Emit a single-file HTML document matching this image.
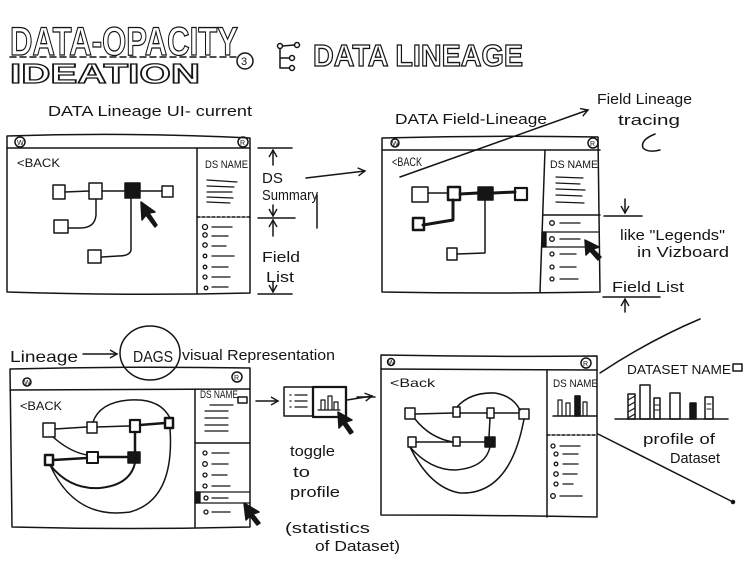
<!DOCTYPE html>
<html><head><meta charset="utf-8"><style>
html,body{margin:0;padding:0;background:#fff;}
svg{display:block;}
text{font-family:"Liberation Sans",sans-serif;fill:#151515;}
.o{fill:#fff;stroke:#151515;stroke-width:1.3;font-weight:bold;}
</style></head><body>
<svg width="751" height="576" viewBox="0 0 751 576" xmlns="http://www.w3.org/2000/svg">
<defs>
<marker id="ah" markerWidth="10" markerHeight="10" refX="8" refY="5" orient="auto" markerUnits="userSpaceOnUse"><path d="M1,1 L8,5 L1,9" fill="none" stroke="#151515" stroke-width="1.4"/></marker>
</defs>
<g fill="none" stroke="#151515" stroke-width="1.5" stroke-linecap="round" stroke-linejoin="round">

<!-- Title -->
<line x1="10" y1="57" x2="238" y2="57" stroke-dasharray="6,4"/>
<circle cx="245" cy="61" r="8"/>
<!-- tree icon -->
<circle cx="280" cy="46" r="2.5"/><circle cx="297" cy="45" r="2.5"/><circle cx="292" cy="58" r="2.5"/><circle cx="292" cy="68" r="2.5"/>
<path d="M282.5,46 L294.5,45 M280,48.5 L280,68 L289.5,68 M280,58 L289.5,58"/>

<!-- ===== Window 1 ===== -->
<path d="M7,136 Q130,132 250,138 L250,293 Q130,296 7,292 Z"/>
<line x1="7" y1="148" x2="250" y2="148"/>
<circle cx="20" cy="142" r="5"/><circle cx="243" cy="142" r="5"/>
<line x1="197" y1="148" x2="197" y2="293"/>
<line x1="197" y1="217" x2="250" y2="217" stroke-dasharray="3,2"/>
<path d="M207,180 L237,182 M207,186 L234,187 M207,192 L232,192 M207,197 L233,198 M207,202 L230,203" stroke-width="1.2"/>
<!-- field list -->
<g stroke-width="1.3">
<circle cx="205" cy="227" r="2.5"/><line x1="212" y1="227" x2="232" y2="227"/>
<circle cx="205" cy="235" r="2.2"/><line x1="212" y1="236" x2="228" y2="236"/>
<circle cx="205" cy="245" r="2.2"/><line x1="212" y1="246" x2="226" y2="246"/>
<circle cx="205" cy="256" r="1.8"/><line x1="212" y1="256" x2="234" y2="256"/>
<circle cx="205" cy="267" r="1.8"/><line x1="212" y1="267" x2="228" y2="267"/>
<circle cx="205" cy="277" r="2"/><line x1="212" y1="277" x2="230" y2="277"/>
<circle cx="206" cy="288" r="1.8"/><line x1="212" y1="287" x2="228" y2="287"/>
</g>
<!-- graph -->
<rect x="53" y="185" width="12" height="14"/>
<rect x="89" y="183" width="13" height="16"/>
<rect x="125" y="183" width="15" height="15" fill="#151515"/>
<rect x="162" y="186" width="11" height="11"/>
<path d="M65,192 L89,191 M102,191 L125,191 M140,191 L162,191"/>
<path d="M96,199 L96,215 Q95,228 80,228 L68,228"/>
<rect x="54" y="220" width="14" height="13"/>
<path d="M131,198 L131,250 Q130,256 118,256 L102,257"/>
<rect x="88" y="250" width="13" height="13"/>
<!-- cursor -->
<path d="M141,202 L142,220 L146,215 L155,227 L157,225 L149,213 L155,212 Z" fill="#151515"/>
<!-- annotations -->
<path d="M258,148 L292,148 M258,218 L295,218 M258,294 L292,294"/>
<line x1="273" y1="165" x2="273" y2="150" marker-end="url(#ah)"/>
<line x1="273" y1="205" x2="273" y2="216" marker-end="url(#ah)"/>
<line x1="273" y1="236" x2="273" y2="220" marker-end="url(#ah)"/>
<line x1="273" y1="282" x2="273" y2="292" marker-end="url(#ah)"/>
<line x1="317" y1="195" x2="317" y2="228"/>
<line x1="306" y1="178" x2="365" y2="171" marker-end="url(#ah)"/>

<!-- ===== Window 2 ===== -->
<path d="M382,138 Q490,135 598,137 L600,292 Q490,294 382,292 Z"/>
<line x1="382" y1="150" x2="600" y2="150"/>
<circle cx="395" cy="143" r="4"/><circle cx="593" cy="143" r="5"/>
<line x1="545" y1="150" x2="540" y2="292"/>
<line x1="543" y1="215" x2="600" y2="215"/>
<path d="M556,177 L583,178 M556,183 L580,184 M556,189 L585,190 M556,195 L582,196 M556,202 L584,203" stroke-width="1.2"/>
<g stroke-width="1.3">
<circle cx="552" cy="223" r="2.3"/><line x1="560" y1="223" x2="580" y2="223"/>
<line x1="542" y1="232" x2="598" y2="232"/>
<rect x="542" y="232" width="4" height="15" fill="#151515"/>
<circle cx="552" cy="239" r="2.3"/><line x1="560" y1="239" x2="580" y2="239"/>
<line x1="542" y1="247" x2="598" y2="247"/>
<circle cx="552" cy="254" r="2"/><line x1="560" y1="254" x2="576" y2="254"/>
<circle cx="552" cy="267" r="2"/><line x1="560" y1="267" x2="576" y2="267"/>
<circle cx="552" cy="279" r="2"/><line x1="560" y1="279" x2="578" y2="279"/>
</g>
<path d="M585,240 L586,255 L590,251 L598,260 L601,257 L593,249 L599,247 Z" fill="#151515"/>
<!-- graph 2 -->
<rect x="412" y="187" width="16" height="15"/>
<rect x="448" y="187" width="12" height="13" stroke-width="2.5"/>
<rect x="478" y="187" width="15" height="13" fill="#151515"/>
<rect x="515" y="188" width="12" height="12" stroke-width="2.2"/>
<path d="M428,193 L448,193"/>
<path d="M460,194 L478,193 M493,193 L515,192" stroke-width="3"/>
<path d="M453,200 L453,220 L423,225" stroke-width="3"/>
<rect x="413" y="218" width="11" height="12" stroke-width="2.5"/>
<path d="M485,200 L485,253 L457,254"/>
<rect x="447" y="248" width="10" height="12"/>
<line x1="400" y1="177" x2="588" y2="110" marker-end="url(#ah)"/>
<path d="M655,134 Q640,140 643,148 Q648,153 660,150"/>
<path d="M604,216 L642,216 M603,297 L660,297"/>
<line x1="625" y1="199" x2="625" y2="213" marker-end="url(#ah)"/>
<line x1="625" y1="312" x2="625" y2="299" marker-end="url(#ah)"/>

<!-- ===== Window 3 ===== -->
<ellipse cx="150" cy="353" rx="30" ry="27"/>
<line x1="83" y1="354" x2="117" y2="354" marker-end="url(#ah)"/>
<path d="M10,369 Q130,366 250,368 L250,527 Q130,530 12,527 Z"/>
<line x1="10" y1="390" x2="250" y2="389"/>
<circle cx="27" cy="382" r="4"/><circle cx="237" cy="377" r="5"/>
<line x1="195" y1="389" x2="195" y2="527"/>
<line x1="195" y1="443" x2="250" y2="443"/>
<rect x="238" y="397" width="9" height="6"/>
<path d="M210,405 L233,405 M205,411 L228,411 M205,418 L228,418 M205,425 L228,425 M205,431 L228,431" stroke-width="1.2"/>
<g stroke-width="1.3">
<circle cx="205" cy="453" r="2"/><line x1="212" y1="453" x2="229" y2="453"/>
<circle cx="205" cy="464" r="2.3"/><line x1="212" y1="464" x2="228" y2="464"/>
<circle cx="205" cy="475" r="2"/><line x1="212" y1="475" x2="227" y2="475"/>
<circle cx="205" cy="486" r="2"/><line x1="212" y1="486" x2="230" y2="486"/>
<line x1="195" y1="492" x2="250" y2="492"/>
<rect x="195" y="492" width="5" height="11" fill="#151515"/>
<circle cx="206" cy="498" r="2"/><line x1="212" y1="498" x2="228" y2="498"/>
<line x1="195" y1="503" x2="250" y2="503"/>
<circle cx="206" cy="512" r="2"/><line x1="212" y1="512" x2="230" y2="512"/>
</g>
<path d="M244,503 L246,520 L250,516 L257,525 L260,523 L253,514 L259,512 Z" fill="#151515"/>
<!-- graph 3 -->
<rect x="43" y="423" width="12" height="14"/>
<rect x="87" y="422" width="10" height="11"/>
<rect x="130" y="420" width="10" height="12" stroke-width="2.2"/>
<rect x="165" y="418" width="8" height="10" stroke-width="2.5"/>
<path d="M55,429 L87,427 M97,427 L130,426"/>
<path d="M140,425 L165,423 M135,432 L135,452 M53,460 L87,458 M98,457 L128,457" stroke-width="2.5"/>
<rect x="45" y="455" width="8" height="10" stroke-width="2.5"/>
<rect x="87" y="452" width="11" height="11" stroke-width="2"/>
<rect x="128" y="452" width="12" height="11" fill="#151515"/>
<path d="M53,437 Q70,452 87,455"/>
<path d="M93,422 Q100,402 130,400 Q160,398 170,418"/>
<path d="M170,428 Q175,500 130,512 Q75,520 50,465"/>
<path d="M50,465 Q70,490 100,488 Q130,485 135,463" stroke-width="2"/>
<!-- toggle -->
<line x1="256" y1="401" x2="278" y2="401" marker-end="url(#ah)"/>
<rect x="284" y="387" width="29" height="29"/>
<rect x="313" y="387" width="33" height="30" stroke-width="2.3"/>
<path d="M290,395 L291,395 M290,401 L291,401 M290,407 L291,407 M295,395 L307,395 M295,401 L307,401 M295,407 L307,407" stroke-width="1.3"/>
<path d="M318,410 L340,410 M321,410 L321,400 L325,400 L325,410 M328,410 L328,396 L332,396 L332,410 M334,410 L334,402 L338,402 L338,410" stroke-width="1.2"/>
<line x1="347" y1="400" x2="372" y2="396" marker-end="url(#ah)"/>
<path d="M338,412 L339,428 L343,424 L350,434 L353,432 L346,422 L352,420 Z" fill="#151515"/>

<!-- ===== Window 4 ===== -->
<path d="M381,355 Q490,357 597,356 L597,517 Q490,515 381,515 Z"/>
<line x1="381" y1="369" x2="597" y2="370"/>
<circle cx="391" cy="362" r="3.5"/><circle cx="586" cy="363" r="5"/>
<line x1="547" y1="370" x2="547" y2="517"/>
<line x1="547" y1="435" x2="597" y2="435" stroke-dasharray="3,2"/>
<path d="M553,416 L597,416" />
<path d="M558,416 L558,400 L562,400 L562,416 M566,416 L566,403 L570,403 L570,416 M575,416 L575,396 L580,396 L580,416 M583,416 L583,402 L587,402 L587,416" stroke-width="1.2"/>
<rect x="575" y="396" width="5" height="20" fill="#151515"/>
<g stroke-width="1.3">
<circle cx="553" cy="446" r="2"/><line x1="560" y1="446" x2="580" y2="446"/>
<circle cx="556" cy="454" r="2"/><line x1="563" y1="454" x2="578" y2="454"/>
<circle cx="556" cy="464" r="1.8"/><line x1="563" y1="464" x2="578" y2="464"/>
<circle cx="556" cy="474" r="2.2"/><line x1="563" y1="474" x2="577" y2="474"/>
<circle cx="556" cy="484" r="2"/><line x1="563" y1="484" x2="573" y2="484"/>
<circle cx="553" cy="496" r="2.3"/><line x1="560" y1="496" x2="582" y2="496"/>
</g>
<rect x="405" y="408" width="10" height="11"/>
<rect x="453" y="407" width="7" height="10"/>
<rect x="487" y="408" width="7" height="10"/>
<rect x="519" y="409" width="10" height="10"/>
<rect x="408" y="437" width="8" height="10"/>
<rect x="453" y="437" width="7" height="9"/>
<rect x="485" y="437" width="10" height="10" fill="#151515"/>
<path d="M415,414 L453,413 M460,413 L487,413 M494,413 L519,413 M416,442 L453,442 M460,442 L485,442"/>
<path d="M415,419 Q430,438 453,442"/>
<path d="M457,407 Q470,392 495,393 Q513,396 520,410"/>
<path d="M490,418 L489,437"/>
<path d="M410,447 Q430,470 455,470 Q485,468 490,447"/>
<path d="M410,447 Q430,488 460,493 Q510,495 524,419"/>
<line x1="357" y1="397" x2="375" y2="397"/>
<!-- expansion lines -->
<path d="M600,373 Q650,340 700,319"/>
<path d="M598,434 L733,502"/>
<circle cx="733" cy="502" r="1.5" fill="#151515"/>
<!-- profile chart -->
<rect x="733" y="364" width="9" height="7"/>
<path d="M615,419 L728,419"/>
<rect x="628" y="394" width="7" height="25" fill="url(#hatch)"/>
<path d="M628,400 L635,396 M628,406 L635,402 M628,412 L635,408 M628,418 L635,414" stroke-width="1.2"/>
<rect x="640" y="385" width="10" height="34"/>
<rect x="654" y="398" width="6" height="21"/>
<path d="M655,405 L659,405 M655,410 L659,410" stroke-width="1"/>
<rect x="670" y="393" width="10" height="26"/>
<rect x="690" y="403" width="6" height="16" fill="#151515"/>
<rect x="705" y="397" width="8" height="22"/>
<path d="M707,404 L711,404 M707,409 L711,409" stroke-width="1"/>
</g>

<!-- ===== Text ===== -->
<text class="o" x="10" y="55" font-size="40" textLength="228" lengthAdjust="spacingAndGlyphs">DATA-OPACITY</text>
<text class="o" x="10" y="83" font-size="28" textLength="190" lengthAdjust="spacingAndGlyphs">IDEATION</text>
<text x="241" y="65" font-size="11">3</text>
<text class="o" x="313" y="66" font-size="31" textLength="210" lengthAdjust="spacingAndGlyphs">DATA LINEAGE</text>

<g font-size="15">
<text x="48" y="116" textLength="204" lengthAdjust="spacingAndGlyphs">DATA Lineage UI- current</text>
<text x="262" y="183">DS</text>
<text x="262" y="200" textLength="56" lengthAdjust="spacingAndGlyphs">Summary</text>
<text x="262" y="262" textLength="38" lengthAdjust="spacingAndGlyphs">Field</text>
<text x="266" y="282" textLength="28" lengthAdjust="spacingAndGlyphs">List</text>
<text x="395" y="124" textLength="152" lengthAdjust="spacingAndGlyphs">DATA Field-Lineage</text>
<text x="597" y="104" textLength="95" lengthAdjust="spacingAndGlyphs">Field Lineage</text>
<text x="618" y="125" textLength="62" lengthAdjust="spacingAndGlyphs">tracing</text>
<text x="620" y="240" textLength="105" lengthAdjust="spacingAndGlyphs">like "Legends"</text>
<text x="637" y="257" textLength="92" lengthAdjust="spacingAndGlyphs">in Vizboard</text>
<text x="612" y="292" textLength="72" lengthAdjust="spacingAndGlyphs">Field List</text>
<text x="10" y="362" font-size="16" textLength="68" lengthAdjust="spacingAndGlyphs">Lineage</text>
<text x="133" y="362" font-size="16" textLength="40" lengthAdjust="spacingAndGlyphs">DAGS</text>
<text x="182" y="360" textLength="153" lengthAdjust="spacingAndGlyphs">visual Representation</text>
<text x="290" y="456" textLength="45" lengthAdjust="spacingAndGlyphs">toggle</text>
<text x="293" y="477" textLength="17" lengthAdjust="spacingAndGlyphs">to</text>
<text x="290" y="497" textLength="50" lengthAdjust="spacingAndGlyphs">profile</text>
<text x="285" y="533" textLength="85" lengthAdjust="spacingAndGlyphs">(statistics</text>
<text x="315" y="551" textLength="85" lengthAdjust="spacingAndGlyphs">of Dataset)</text>
<text x="643" y="444" textLength="72" lengthAdjust="spacingAndGlyphs">profile of</text>
<text x="670" y="463" textLength="50" lengthAdjust="spacingAndGlyphs">Dataset</text>
</g>
<g font-size="12">
<text x="17" y="167" textLength="43" lengthAdjust="spacingAndGlyphs">&lt;BACK</text>
<text x="205" y="168" font-size="11" textLength="43" lengthAdjust="spacingAndGlyphs">DS NAME</text>
<text x="392" y="166" textLength="30" lengthAdjust="spacingAndGlyphs">&lt;BACK</text>
<text x="550" y="168" font-size="11" textLength="48" lengthAdjust="spacingAndGlyphs">DS NAME</text>
<text x="20" y="410" textLength="42" lengthAdjust="spacingAndGlyphs">&lt;BACK</text>
<text x="200" y="398" font-size="11" textLength="38" lengthAdjust="spacingAndGlyphs">DS NAME</text>
<text x="390" y="387" textLength="45" lengthAdjust="spacingAndGlyphs">&lt;Back</text>
<text x="553" y="387" font-size="11" textLength="45" lengthAdjust="spacingAndGlyphs">DS NAME</text>
<text x="627" y="374" font-size="13" textLength="104" lengthAdjust="spacingAndGlyphs">DATASET NAME</text>
</g>
<g font-size="7">
<text x="17" y="145">W</text>
<text x="240" y="145">R</text>
<text x="392" y="146">W</text>
<text x="590" y="146">R</text>
<text x="24" y="385">W</text>
<text x="234" y="380">R</text>
<text x="388" y="365">W</text>
<text x="583" y="366">R</text>
</g>
</svg>
</body></html>
